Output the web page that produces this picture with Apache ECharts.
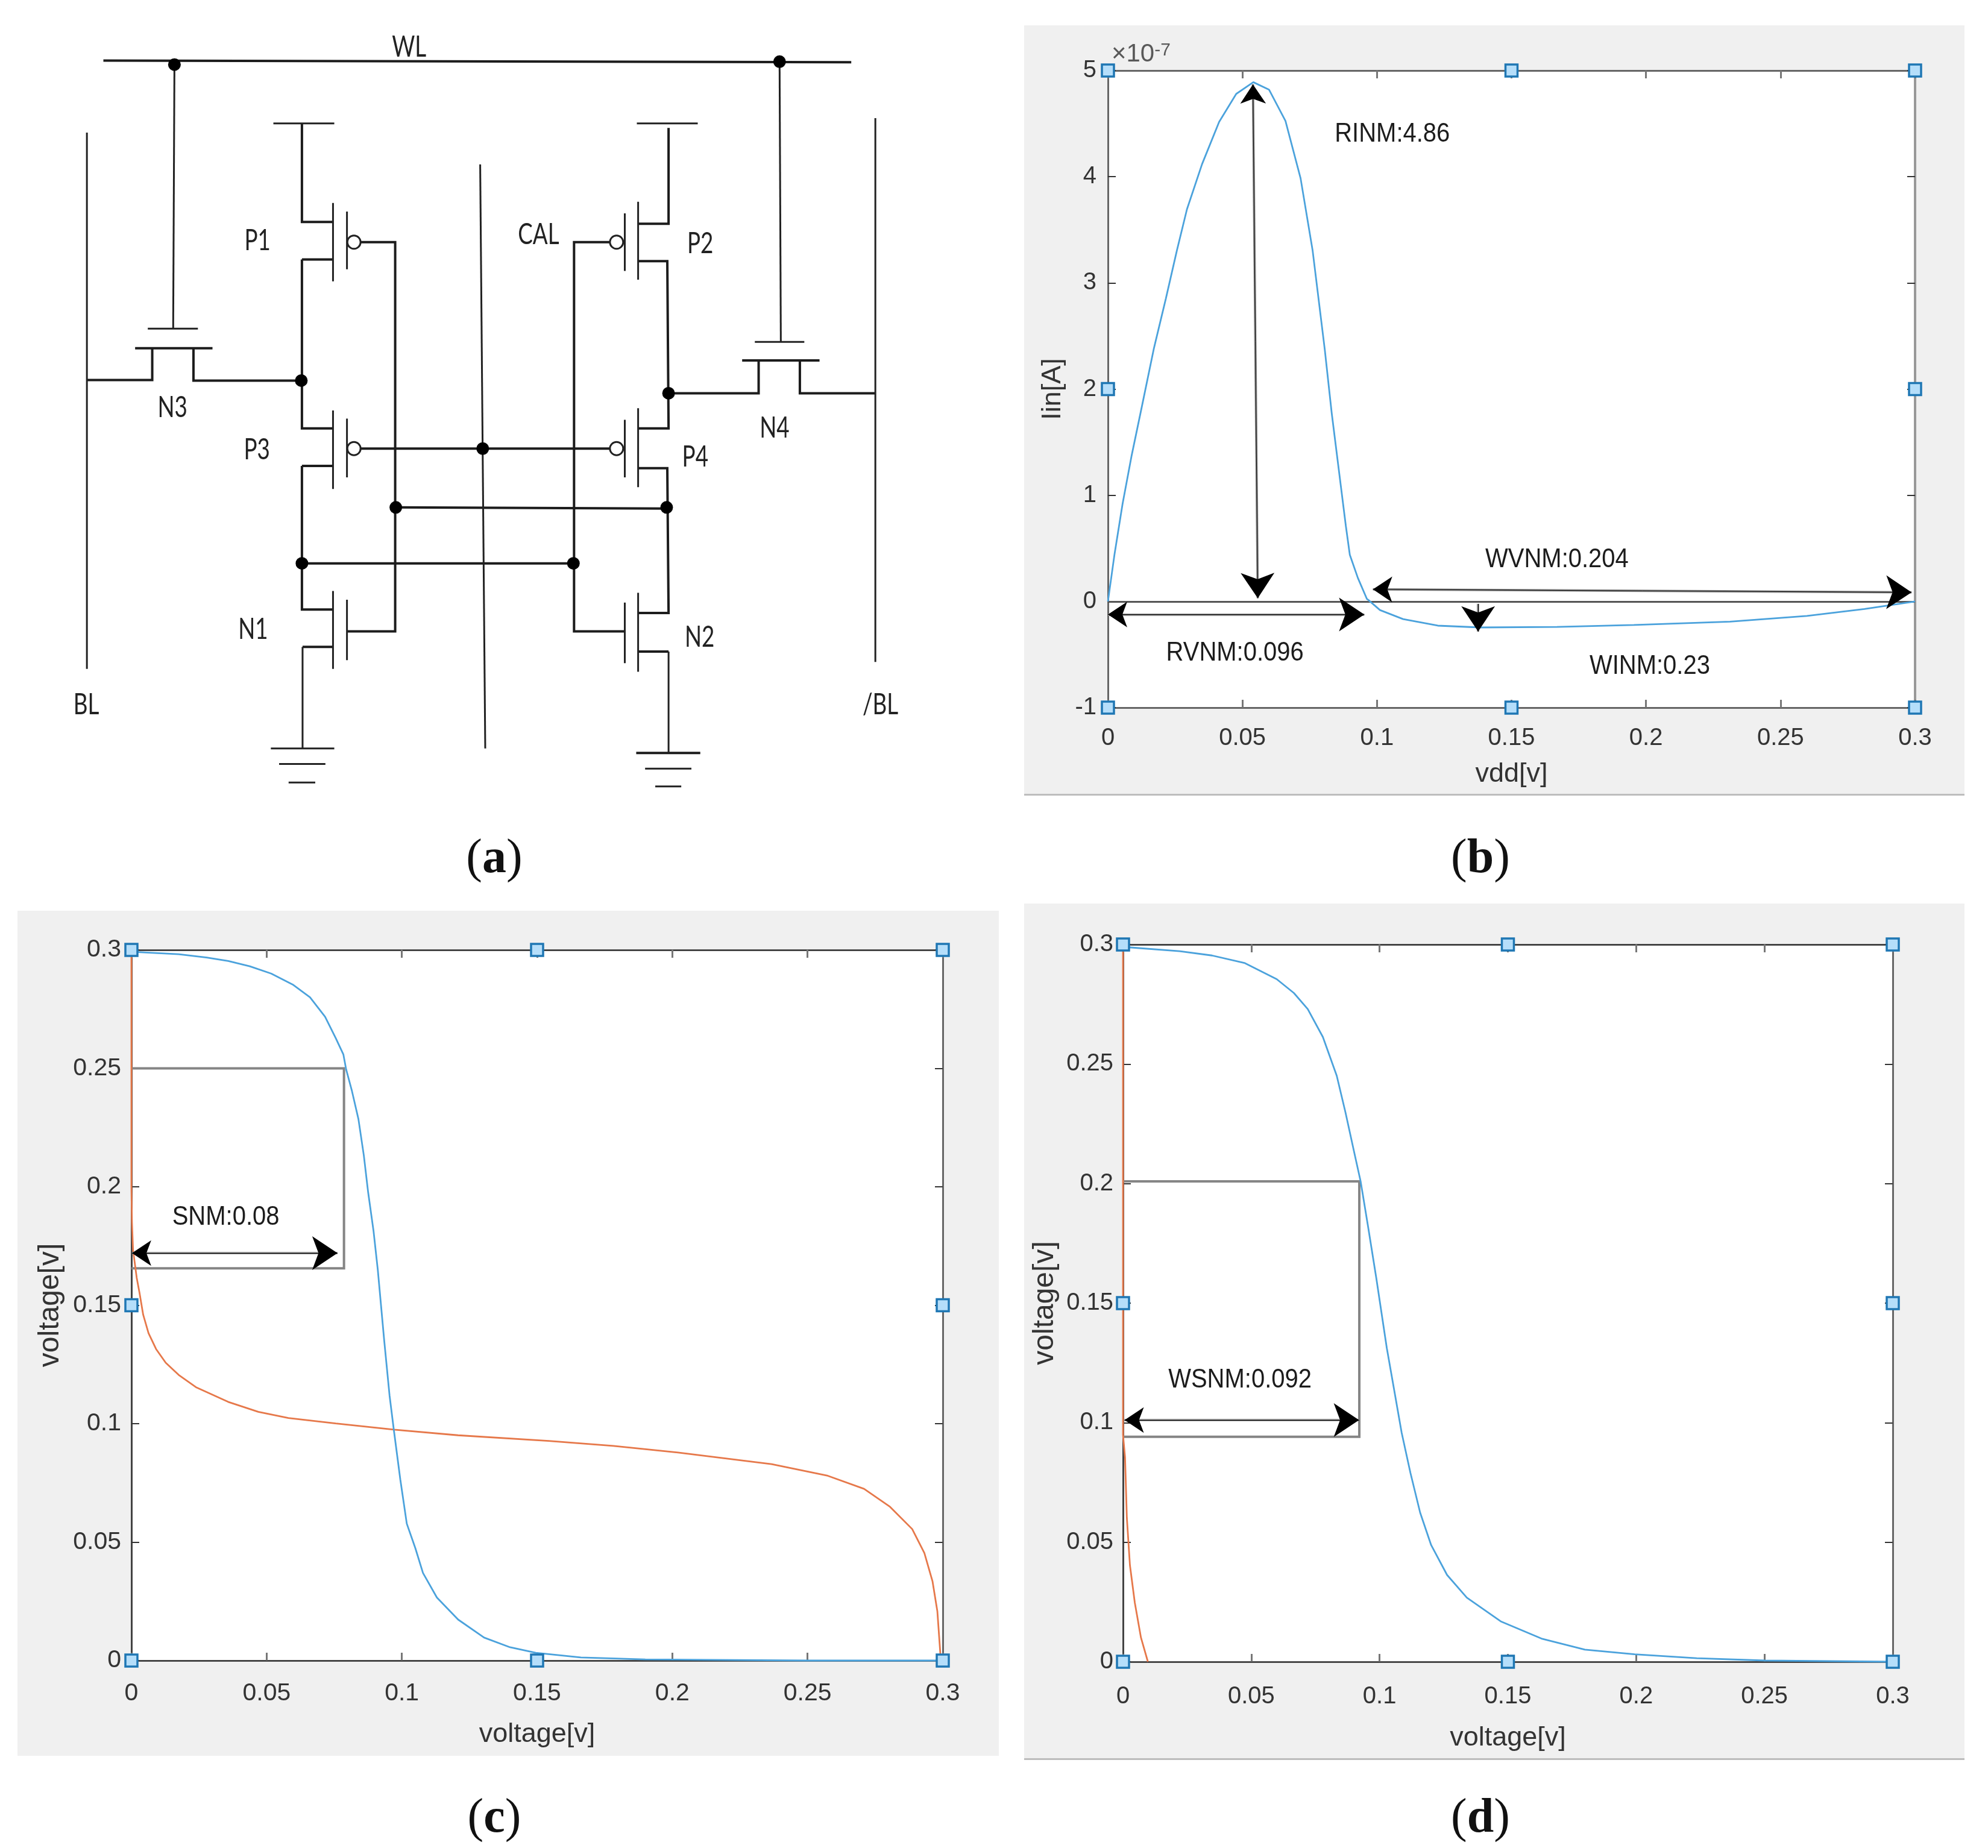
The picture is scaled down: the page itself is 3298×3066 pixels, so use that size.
<!DOCTYPE html>
<html>
<head>
<meta charset="utf-8">
<style>html,body{margin:0;padding:0;background:#fff}#chart{width:3298px;height:3066px}</style>
<script src="https://cdn.jsdelivr.net/npm/echarts@6/dist/echarts.min.js"></script>
</head>
<body>
<div id="chart"></div>
<script>
// ---- panel (b)
var curveB = [[0,0],[0.00247,0.448],[0.00546,0.921],[0.00882,1.375],[0.01256,1.829],[0.01704,2.378],[0.02152,2.851],[0.02563,3.305],[0.02937,3.693],[0.03498,4.118],[0.04133,4.516],[0.04769,4.78],[0.05404,4.89],[0.05987,4.82],[0.06599,4.525],[0.0716,3.986],[0.07608,3.305],[0.08057,2.378],[0.08318,1.773],[0.08655,1.091],[0.08842,0.713],[0.08991,0.439],[0.0929,0.221],[0.09626,0.023],[0.0968,0.014],[0.1011,-0.081],[0.1097,-0.166],[0.1226,-0.228],[0.1383,-0.245],[0.1669,-0.24],[0.1955,-0.222],[0.2312,-0.19],[0.2598,-0.137],[0.2812,-0.071],[0.3,0]];
var zeroLineB = [[0,0],[0.3,0]];
var arrowsB = [[[0.0539,4.87],[0.0557,0.03]],[[0,-0.123],[0.0953,-0.123]],[[0.0985,0.114],[0.2987,0.086]]];
var singleArrowB = [[[0.1376,-0.023],[0.1376,-0.284]]];
var textB = [['RINM:4.86',0.1057,4.4],['RVNM:0.096',0.0472,-0.49],['WVNM:0.204',0.1669,0.39],['WINM:0.23',0.2014,-0.615]];
var handlesB = [[0,5],[0.15,5],[0.3,5],[0,2],[0.3,2],[0,-1],[0.15,-1],[0.3,-1]];
// ---- panel (c)
var blueC = [[0,0.2992],[0.0024,0.2991],[0.01747,0.2982],[0.02783,0.2968],[0.0358,0.2953],[0.04375,0.2931],[0.05169,0.29],[0.05964,0.2854],[0.06604,0.28],[0.07161,0.2718],[0.07558,0.2627],[0.07837,0.2559],[0.07941,0.2495],[0.08155,0.2404],[0.08394,0.2286],[0.08594,0.2132],[0.08753,0.1977],[0.08952,0.1814],[0.0911,0.165],[0.09343,0.1356],[0.09546,0.1118],[0.09705,0.0972],[0.09943,0.0764],[0.10182,0.0578],[0.105,0.0474],[0.1078,0.037],[0.11296,0.0266],[0.1208,0.0173],[0.1304,0.0097],[0.14,0.0056],[0.1495,0.0033],[0.1662,0.0013],[0.19,0.0005],[0.214,0.0003],[0.25,0],[0.3,0]];
var orangeC = [[0,0.3],[0,0.2],[0.0002,0.185],[0.0006,0.1733],[0.00196,0.1616],[0.00299,0.1553],[0.00435,0.146],[0.00633,0.1382],[0.00912,0.1315],[0.0127,0.1257],[0.01747,0.1206],[0.02385,0.1154],[0.03577,0.1092],[0.04692,0.105],[0.05806,0.1024],[0.07556,0.1001],[0.09705,0.0975],[0.1208,0.0951],[0.1543,0.0927],[0.1782,0.0906],[0.2021,0.0878],[0.2367,0.0829],[0.2575,0.078],[0.2709,0.0725],[0.2805,0.0649],[0.2887,0.0555],[0.2932,0.0454],[0.2962,0.0335],[0.298,0.0208],[0.2991,0.003],[0.2992,0]];
var boxC = [[0,0.25],[0.0786,0.25],[0.0786,0.1656],[0,0.1656]];
var arrowsC = [[[0.0002,0.172],[0.0762,0.172]]];
var textC = [['SNM:0.08',0.0349,0.1871]];
// ---- panel (d)
var blueD = [[0,0.2992],[0.0024,0.2988],[0.0221,0.2972],[0.0347,0.2954],[0.0473,0.2923],[0.0599,0.2855],[0.0666,0.2797],[0.072,0.273],[0.0779,0.2613],[0.0833,0.2451],[0.0867,0.2298],[0.09,0.2136],[0.0926,0.201],[0.0955,0.1821],[0.0987,0.1606],[0.1028,0.1313],[0.1057,0.1136],[0.1086,0.0958],[0.112,0.0791],[0.1158,0.0624],[0.1201,0.0488],[0.1263,0.0363],[0.134,0.0268],[0.1472,0.0169],[0.1631,0.0097],[0.18,0.0051],[0.1994,0.0031],[0.2236,0.0015],[0.2503,0.0005],[0.3,0]];
var orangeD = [[0,0.3],[0,0.095],[0.0008,0.0854],[0.0015,0.0602],[0.0027,0.0404],[0.0046,0.0247],[0.007,0.0101],[0.0097,0]];
var boxD = [[0,0.2009],[0.0921,0.2009],[0.0921,0.0941],[0,0.0941]];
var arrowsD = [[[0.0006,0.1011],[0.092,0.1011]]];
var textD = [['WSNM:0.092',0.0456,0.1178]];
var handlesV = [[0,0.3],[0.15,0.3],[0.3,0.3],[0,0.15],[0.3,0.15],[0,0],[0.15,0],[0.3,0]];
// ---- panel (a) schematic, in schematic units
var wiresThick = [
 [[163,105],[1342,108]],
 [[137,659],[240,659],[240,604]],[[305,604],[305,660],[475,660]],[[213,604],[335,604]],
 [[476,214],[476,385],[525,385]],[[476,450],[525,450]],[[476,450],[476,743],[525,743]],
 [[476,808],[525,808]],[[476,808],[476,1057],[525,1057]],[[477,1122],[525,1122]],
 [[568,420],[623,420],[623,1095],[548,1095]],
 [[568,778],[962,778]],
 [[1054,222],[1054,388],[1006,388]],[[1006,453],[1052,453],[1054,743],[1006,743]],
 [[1006,812],[1052,812],[1054,1063],[1006,1063]],[[1006,1130],[1054,1130]],
 [[962,420],[905,420],[905,1095],[985,1095]],
 [[624,880],[1051,882]],[[476,977],[904,977]],
 [[1054,682],[1196,682],[1196,625]],[[1261,625],[1261,682],[1380,682]],[[1170,625],[1292,625]],
 [[1003,1306],[1104,1306]]
];
var wiresThin = [
 [[275,112],[273,570]],[[233,570],[312,570]],
 [[137,230],[137,1160]],[[431,214],[527,214]],
 [[525,352],[525,488]],[[547,367],[547,467]],[[525,712],[525,848]],[[547,726],[547,828]],
 [[525,1025],[525,1160]],[[547,1040],[547,1145]],
 [[477,1122],[477,1298]],[[427,1298],[527,1298]],[[440,1325],[513,1325]],[[455,1357],[497,1357]],
 [[757,285],[765,1298]],
 [[1004,214],[1100,214]],[[1006,350],[1006,485]],[[985,370],[985,470]],[[1006,708],[1006,845]],[[985,728],[985,828]],
 [[1006,1028],[1006,1165]],[[985,1045],[985,1150]],[[1054,1130],[1054,1305]],
 [[1017,1333],[1090,1333]],[[1033,1364],[1074,1364]],
 [[1229,107],[1231,593]],[[1190,593],[1268,593]],[[1380,205],[1380,1148]]
];
var dots = [[275,112],[1229,107],[475,660],[1054,682],[761,778],[624,880],[1051,880],[476,977],[904,977]];
var bubbles = [[558,420],[558,778],[972,420],[972,778]];
var schematicLabels = [['WL',645,82],['P1',406,418],['CAL',849,407],['P2',1104,423],['N3',272,707],['N4',1221,743],['P3',405,780],['P4',1096,793],['N1',399,1092],['N2',1103,1105],['BL',136,1222],['/BL',1388,1222]];
var captions = ['a','b','c','d'];

var BLUE='#4ba2dc', ORANGE='#e6784a', INK='#333333', SANS='"Liberation Sans",Arial,sans-serif';
var grids=[], xAxes=[], yAxes=[], series=[];

function toCoords(list){return list.map(function(c){return {coords:c};});}

function addText(base,list,font,fill,sx,sy){
  series.push(Object.assign({type:'custom',silent:true,z:6,clip:false,
    data:list.map(function(t){return [t[1],t[2]];}),encode:{x:0,y:1},
    renderItem:function(params,api){
      var p=api.coord([api.value(0),api.value(1)]);
      return {type:'text',x:p[0],y:p[1],scaleX:sx,scaleY:sy,
        style:{text:list[params.dataIndex][0],font:font,fill:fill,align:'center',verticalAlign:'middle'}};
    }},base));
}

function addPlot(o){
  var g=grids.length;
  grids.push({left:o.box[0],top:o.box[1],width:o.box[2]-o.box[0],height:o.box[3]-o.box[1],show:true,backgroundColor:'#fff',borderWidth:0});
  var xa={type:'value',gridIndex:g,min:0,max:0.3,interval:0.05,splitLine:{show:false}};
  var ya={type:'value',gridIndex:g,min:o.ymin,max:o.ymax,interval:o.yint,splitLine:{show:false}};
  var line=function(s){return {show:true,onZero:false,lineStyle:{color:s[0],width:s[1]}};};
  var xtick={show:true,inside:true,length:13,lineStyle:{color:'#777',width:3}};
  var ytick={show:true,inside:true,length:13,lineStyle:{color:'#333',width:2}};
  xAxes.push(Object.assign({},xa,{position:'bottom',axisLine:line(o.lines.bottom),axisTick:xtick,
    axisLabel:{show:true,fontFamily:SANS,fontSize:o.fs,color:INK,margin:o.xm},
    name:o.xname,nameLocation:'middle',nameGap:o.xgap,nameTextStyle:{fontFamily:SANS,fontSize:45,color:INK}}));
  xAxes.push(Object.assign({},xa,{position:'top',axisLine:line(o.lines.top),axisTick:xtick,axisLabel:{show:false}}));
  yAxes.push(Object.assign({},ya,{position:'left',axisLine:line(o.lines.left),axisTick:ytick,
    axisLabel:{show:true,fontFamily:SANS,fontSize:o.fs,color:INK,margin:o.ym,padding:[8,0,0,0]},
    name:o.yname,nameLocation:'middle',nameGap:o.ygap,nameTextStyle:{fontFamily:SANS,fontSize:o.yfs,color:INK}}));
  yAxes.push(Object.assign({},ya,{position:'right',axisLine:line(o.lines.right),axisTick:ytick,axisLabel:{show:false}}));
  var base={xAxisIndex:xAxes.length-2,yAxisIndex:yAxes.length-2};
  o.curves.forEach(function(c){
    series.push(Object.assign({type:'line',data:c[0],showSymbol:false,symbol:'none',clip:false,z:4,lineStyle:{color:c[1],width:2.8}},base));
  });
  if(o.boxes) series.push(Object.assign({type:'lines',coordinateSystem:'cartesian2d',polyline:true,data:toCoords(o.boxes),z:3,lineStyle:{color:'#858585',width:4,opacity:1}},base));
  if(o.plain) series.push(Object.assign({type:'lines',coordinateSystem:'cartesian2d',data:toCoords(o.plain),z:3,lineStyle:{color:'#555',width:3,opacity:1}},base));
  var all=o.arrows.concat(o.single||[]);
  series.push(Object.assign({type:'lines',coordinateSystem:'cartesian2d',data:toCoords(all),z:5,lineStyle:{color:'#909090',width:4,opacity:1}},base));
  series.push(Object.assign({type:'lines',coordinateSystem:'cartesian2d',data:toCoords(o.arrows),symbol:['arrow','arrow'],symbolSize:[32,42],z:5,lineStyle:{color:'#000',width:1,opacity:1}},base));
  if(o.single) series.push(Object.assign({type:'lines',coordinateSystem:'cartesian2d',data:toCoords(o.single),symbol:['none','arrow'],symbolSize:[32,42],z:5,lineStyle:{color:'#000',width:1,opacity:1}},base));
  addText(base,o.text,'40px '+SANS,'#1c1c1c',1,1.1);
  series.push(Object.assign({type:'scatter',data:o.handles,symbol:'rect',symbolSize:20,clip:false,z:7,silent:true,
    itemStyle:{color:'#b5defa',borderColor:'#1f77b4',borderWidth:3.5,opacity:1}},base));
  return base;
}

// schematic
(function(){
  var g=grids.length;
  grids.push({left:0,top:0,width:1650,height:1500,show:false});
  xAxes.push({type:'value',gridIndex:g,min:0,max:1568,show:false,splitLine:{show:false}});
  yAxes.push({type:'value',gridIndex:g,min:0,max:1568,inverse:true,show:false,splitLine:{show:false}});
  var base={xAxisIndex:xAxes.length-1,yAxisIndex:yAxes.length-1};
  series.push(Object.assign({type:'lines',coordinateSystem:'cartesian2d',polyline:true,data:toCoords(wiresThick),lineStyle:{color:'#1c1c1c',width:4,opacity:1},z:3},base));
  series.push(Object.assign({type:'lines',coordinateSystem:'cartesian2d',polyline:true,data:toCoords(wiresThin),lineStyle:{color:'#222',width:3,opacity:1},z:3},base));
  series.push(Object.assign({type:'scatter',data:dots,symbolSize:21,itemStyle:{color:'#000',opacity:1},z:4,silent:true},base));
  series.push(Object.assign({type:'scatter',data:bubbles,symbolSize:22,itemStyle:{color:'#fff',borderColor:'#222',borderWidth:3,opacity:1},z:4,silent:true},base));
  addText(base,schematicLabels,'46px Lato,sans-serif','#222',0.8,1.05);
})();

var baseB=addPlot({box:[1838,117,3177,1174],ymin:-1,ymax:5,yint:1,fs:40,xm:31,ym:19,xname:'vdd[v]',yname:'Iin[A]',xgap:88,ygap:69,yfs:45,
  lines:{top:['#666',3],bottom:['#666',3],left:['#666',3],right:['#999',4]},
  curves:[[curveB,BLUE]],plain:[zeroLineB],arrows:arrowsB,single:singleArrowB,text:textB,handles:handlesB});
// the exponent label of panel (b), placed just above the top axis
series.push(Object.assign({type:'scatter',data:[{name:'exp',value:[0.0123,5.15]}],symbolSize:0,clip:false,z:6,silent:true,
  label:{show:true,position:'inside',formatter:'{a|×10}{b|-7}',rich:{a:{fontFamily:SANS,fontSize:42,color:INK},b:{fontFamily:SANS,fontSize:30,color:INK,verticalAlign:'top',padding:[0,0,14,0]}}}},baseB));
var linesV={top:['#2a2a2a',2.5],bottom:['#2a2a2a',2.5],left:['#444',3],right:['#666',3]};
addPlot({box:[218,1576,1564,2755],ymin:0,ymax:0.3,yint:0.05,fs:41,xm:34,ym:17,xname:'voltage[v]',yname:'voltage[v]',xgap:100,ygap:110,yfs:48,lines:linesV,
  curves:[[orangeC,ORANGE],[blueC,BLUE]],boxes:[boxC],arrows:arrowsC,text:textC,handles:handlesV});
addPlot({box:[1863,1567,3140,2757],ymin:0,ymax:0.3,yint:0.05,fs:40,xm:38,ym:16,xname:'voltage[v]',yname:'voltage[v]',xgap:104,ygap:105,yfs:48,lines:linesV,
  curves:[[orangeD,ORANGE],[blueD,BLUE]],boxes:[boxD],arrows:arrowsD,text:textD,handles:handlesV});

function panel(x,y,w,h){return {type:'rect',z:-5,silent:true,shape:{x:x,y:y,width:w,height:h},style:{fill:'#f0f0f0'}};}
function rule(x,y,w){return {type:'rect',z:-4,silent:true,shape:{x:x,y:y,width:w,height:3},style:{fill:'#bdbdbd'}};}
function caption(ch,cx,cy){
  return {type:'text',z:10,silent:true,x:cx,y:cy,style:{text:'{p|(}{b|'+ch+'}{p|)}',align:'center',verticalAlign:'middle',
    rich:{p:{fontFamily:'"Liberation Serif",serif',fontSize:80,fill:'#111'},b:{fontFamily:'"Liberation Serif",serif',fontSize:80,fontWeight:'bold',fill:'#111'}}}};
}

var chart=echarts.init(document.getElementById('chart'),null,{renderer:'canvas'});
chart.setOption({
  animation:false,backgroundColor:'#fff',tooltip:{show:false},legend:{show:false},
  grid:grids,xAxis:xAxes,yAxis:yAxes,series:series,
  graphic:[
    panel(1699,42,1560,1277),rule(1699,1317,1560),
    panel(29,1511,1628,1402),
    panel(1699,1499,1560,1420),rule(1699,2917,1560),
    caption(captions[0],820,1426),caption(captions[1],2456,1426),caption(captions[2],820,3018),caption(captions[3],2456,3018)
  ]
});
</script>
</body>
</html>
